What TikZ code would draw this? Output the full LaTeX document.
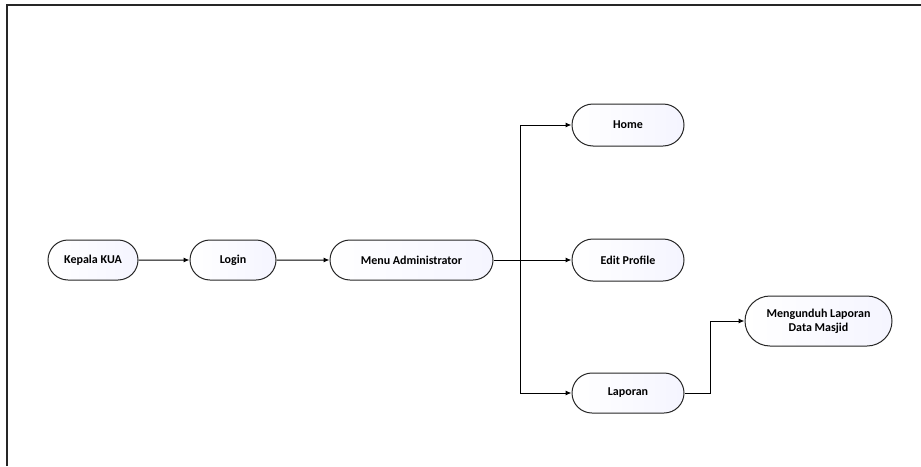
\documentclass[tikz,border=0pt]{standalone}
\usepackage{fontspec}
\setmainfont{Carlito}
\usetikzlibrary{shapes.misc,arrows.meta}
\begin{document}
\begin{tikzpicture}[x=1pt,y=-1pt,
  box/.style={rounded rectangle, draw=black!85, line width=1pt,
    left color=white, right color=blue!4!white,
    font=\fontsize{12}{14}\selectfont\bfseries, align=center, inner sep=0pt},
  conn/.style={draw=black, line width=1pt, -{Latex[length=6pt,width=5pt]}}
]
\useasboundingbox (0,0) rectangle (921,466);
\draw[line width=1.3pt, black!85] (7,466) -- (7,5) -- (921,5);
\node[box, minimum width=90pt, minimum height=40pt] (kua) at (93,260) {Kepala KUA};
\node[box, minimum width=86pt, minimum height=40pt] (login) at (233,260) {Login};
\node[box, minimum width=163pt, minimum height=40pt] (menu) at (411.5,260) {Menu Administrator};
\node[box, minimum width=112pt, minimum height=42pt] (home) at (628,125) {Home};
\node[box, minimum width=112pt, minimum height=42pt] (edit) at (628,260) {Edit Profile};
\node[box, minimum width=112pt, minimum height=40pt] (lap) at (628,393) {Laporan};
\node[box, minimum width=147pt, minimum height=50pt] (unduh) at (818.5,321) {Mengunduh Laporan\\Data Masjid};
\coordinate (j) at (520,260);
\draw[conn] (kua) -- (login);
\draw[conn] (login) -- (menu);
\draw[conn] (menu.east) -- (edit.west);
\draw[conn] (j) |- (home.west);
\draw[conn] (j) |- (lap.west);
\draw[conn] (lap.east) -- (710,393) |- (unduh.west);
\end{tikzpicture}
\end{document}
